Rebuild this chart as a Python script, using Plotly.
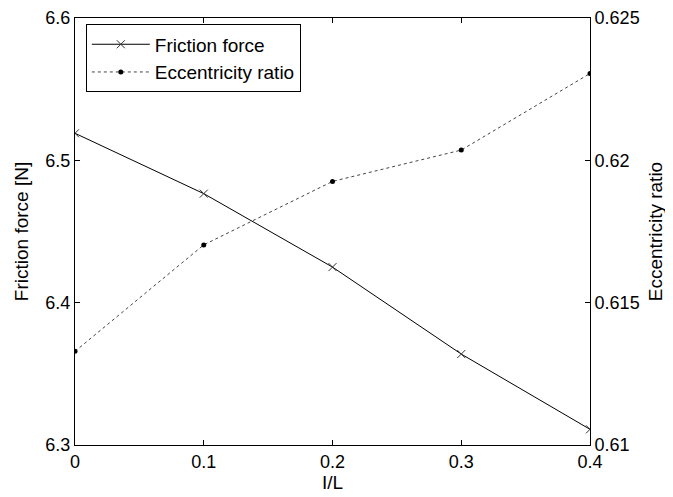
import plotly.graph_objects as go

x_vals = [0, 0.1, 0.2, 0.3, 0.4]
friction = [6.519, 6.4766, 6.425, 6.3639, 6.311]
eccentricity = [0.61329, 0.61703, 0.61926, 0.62036, 0.62305]

x_ticks = [0, 0.1, 0.2, 0.3, 0.4]
x_ticktext = ["0", "0.1", "0.2", "0.3", "0.4"]
y1_ticks = [6.3, 6.4, 6.5, 6.6]
y1_ticktext = ["6.3", "6.4", "6.5", "6.6"]
y2_ticks = [0.61, 0.615, 0.62, 0.625]
y2_ticktext = ["0.61", "0.615", "0.62", "0.625"]

font_family = "Liberation Sans, Arial, sans-serif"
fs_tick = 18
fs_title = 19
fs_legend = 19

fig = go.Figure()
fig.add_trace(go.Scatter(
    x=x_vals, y=friction, name="Friction force", mode="lines+markers",
    line=dict(color="black", width=1),
    marker=dict(symbol="x-thin", size=8, line=dict(width=1, color="#333333"), color="#333333"),
    yaxis="y"))
fig.add_trace(go.Scatter(
    x=x_vals, y=eccentricity, name="Eccentricity ratio", mode="lines+markers",
    line=dict(color="#444444", width=1, dash="dot"),
    marker=dict(symbol="circle", size=5, color="black"),
    yaxis="y2"))

axis_common = dict(showgrid=False, zeroline=False, showline=True, linecolor="black",
                   linewidth=1, ticks="inside", ticklen=5, tickcolor="black", automargin=False,
                   ticklabeloverflow="allow",
                   tickfont=dict(size=fs_tick, color="black", family=font_family))

fig.update_layout(
    width=665, height=489,
    margin=dict(l=67, r=83, t=10, b=52),
    paper_bgcolor="white", plot_bgcolor="white",
    font=dict(family=font_family, size=fs_tick, color="black"),
    xaxis=dict(range=[0, 0.4], tickvals=x_ticks, ticktext=x_ticktext, mirror="ticks",
               title=dict(text="I/L", standoff=5, font=dict(size=fs_title)), **axis_common),
    yaxis=dict(range=[6.3, 6.6], tickvals=y1_ticks, ticktext=y1_ticktext,
               title=dict(text="Friction force [N]", standoff=11, font=dict(size=fs_title)), **axis_common),
    yaxis2=dict(range=[0.61, 0.625], tickvals=y2_ticks, ticktext=y2_ticktext,
                overlaying="y", side="right",
                title=dict(text="Eccentricity ratio", standoff=10, font=dict(size=fs_title)), **axis_common),
    legend=dict(x=0.021, y=0.985, xanchor="left", yanchor="top",
                bordercolor="black", borderwidth=1, bgcolor="white",
                font=dict(size=fs_legend, color="black", family=font_family),
                tracegroupgap=0, itemwidth=58),
    showlegend=True,
)

fig.write_html("out.html")
